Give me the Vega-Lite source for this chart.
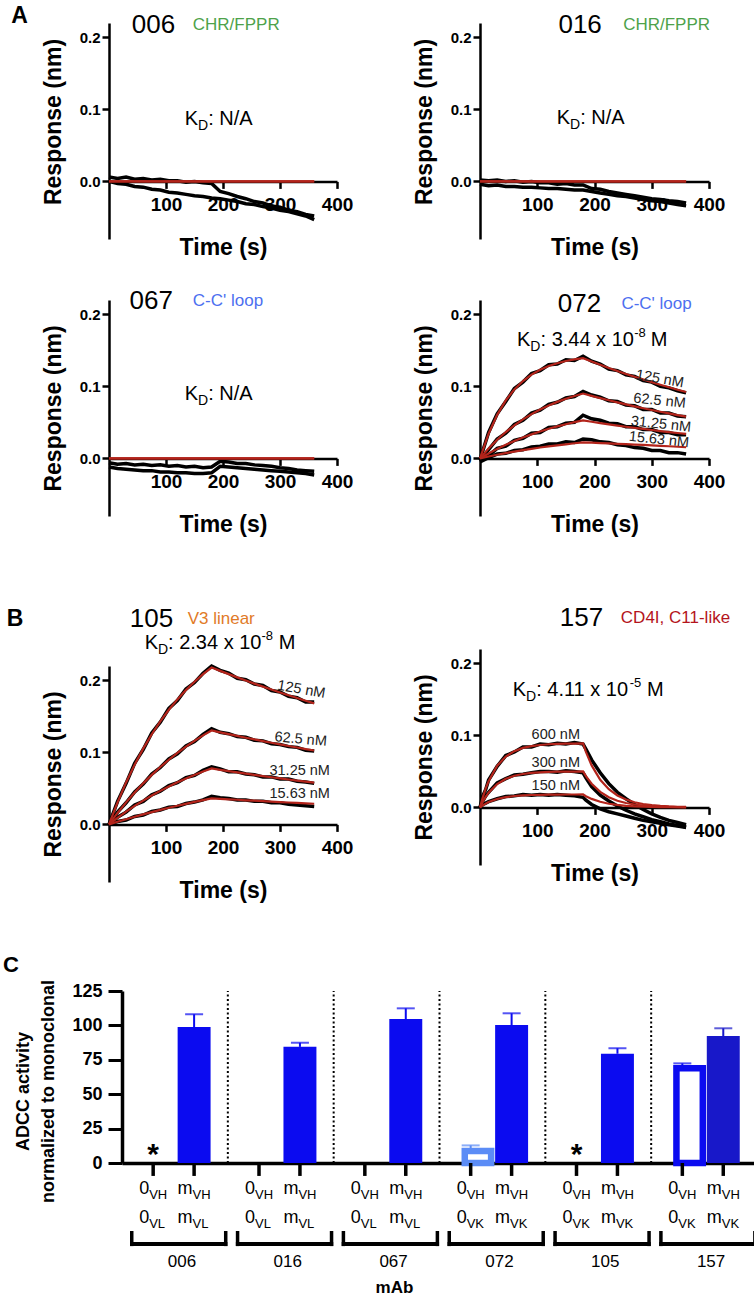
{
"$schema":"https://vega.github.io/schema/vega-lite/v6.json",
"padding":{"left":2,"top":4,"right":0,"bottom":0},
"datasets":{
"k":[
{"p":"006","c":"a","t":0,"b":0.006,"f":0},{"p":"006","c":"a","t":15,"b":0.004,"f":0},{"p":"006","c":"a","t":30,"b":0.006,"f":0},{"p":"006","c":"a","t":45,"b":0.003,"f":0},{"p":"006","c":"a","t":60,"b":0.004,"f":0},{"p":"006","c":"a","t":75,"b":0.002,"f":0},{"p":"006","c":"a","t":90,"b":0.003,"f":0},{"p":"006","c":"a","t":105,"b":0.001,"f":0},{"p":"006","c":"a","t":120,"b":0.001,"f":0},{"p":"006","c":"a","t":135,"b":-0.001,"f":0},{"p":"006","c":"a","t":150,"b":0,"f":0},{"p":"006","c":"a","t":165,"b":-0.002,"f":0},{"p":"006","c":"a","t":180,"b":-0.003,"f":0},{"p":"006","c":"a","t":195,"b":-0.014,"f":0},{"p":"006","c":"a","t":210,"b":-0.017,"f":0},{"p":"006","c":"a","t":225,"b":-0.021,"f":0},{"p":"006","c":"a","t":240,"b":-0.024,"f":0},{"p":"006","c":"a","t":255,"b":-0.028,"f":0},{"p":"006","c":"a","t":270,"b":-0.03,"f":0},{"p":"006","c":"a","t":285,"b":-0.034,"f":0},{"p":"006","c":"a","t":300,"b":-0.036,"f":0},{"p":"006","c":"a","t":315,"b":-0.04,"f":0},{"p":"006","c":"a","t":330,"b":-0.042,"f":0},{"p":"006","c":"a","t":345,"b":-0.046,"f":0},{"p":"006","c":"a","t":360,"b":-0.048,"f":0},
{"p":"006","c":"b","t":0,"b":0,"f":0},{"p":"006","c":"b","t":15,"b":-0.003,"f":0},{"p":"006","c":"b","t":30,"b":-0.004,"f":0},{"p":"006","c":"b","t":45,"b":-0.007,"f":0},{"p":"006","c":"b","t":60,"b":-0.008,"f":0},{"p":"006","c":"b","t":75,"b":-0.011,"f":0},{"p":"006","c":"b","t":90,"b":-0.012,"f":0},{"p":"006","c":"b","t":105,"b":-0.015,"f":0},{"p":"006","c":"b","t":120,"b":-0.016,"f":0},{"p":"006","c":"b","t":135,"b":-0.018,"f":0},{"p":"006","c":"b","t":150,"b":-0.02,"f":0},{"p":"006","c":"b","t":165,"b":-0.021,"f":0},{"p":"006","c":"b","t":180,"b":-0.023,"f":0},{"p":"006","c":"b","t":195,"b":-0.024,"f":0},{"p":"006","c":"b","t":210,"b":-0.026,"f":0},{"p":"006","c":"b","t":225,"b":-0.028,"f":0},{"p":"006","c":"b","t":240,"b":-0.031,"f":0},{"p":"006","c":"b","t":255,"b":-0.032,"f":0},{"p":"006","c":"b","t":270,"b":-0.035,"f":0},{"p":"006","c":"b","t":285,"b":-0.037,"f":0},{"p":"006","c":"b","t":300,"b":-0.04,"f":0},{"p":"006","c":"b","t":315,"b":-0.042,"f":0},{"p":"006","c":"b","t":330,"b":-0.045,"f":0},{"p":"006","c":"b","t":345,"b":-0.048,"f":0},{"p":"006","c":"b","t":360,"b":-0.053,"f":0},
{"p":"016","c":"a","t":0,"b":0.002,"f":0},{"p":"016","c":"a","t":15,"b":0.001,"f":0},{"p":"016","c":"a","t":30,"b":0.002,"f":0},{"p":"016","c":"a","t":45,"b":0,"f":0},{"p":"016","c":"a","t":60,"b":0.001,"f":0},{"p":"016","c":"a","t":75,"b":-0.001,"f":0},{"p":"016","c":"a","t":90,"b":0,"f":0},{"p":"016","c":"a","t":105,"b":-0.002,"f":0},{"p":"016","c":"a","t":120,"b":-0.002,"f":0},{"p":"016","c":"a","t":135,"b":-0.004,"f":0},{"p":"016","c":"a","t":150,"b":-0.003,"f":0},{"p":"016","c":"a","t":165,"b":-0.005,"f":0},{"p":"016","c":"a","t":180,"b":-0.005,"f":0},{"p":"016","c":"a","t":195,"b":-0.01,"f":0},{"p":"016","c":"a","t":210,"b":-0.011,"f":0},{"p":"016","c":"a","t":225,"b":-0.014,"f":0},{"p":"016","c":"a","t":240,"b":-0.016,"f":0},{"p":"016","c":"a","t":255,"b":-0.018,"f":0},{"p":"016","c":"a","t":270,"b":-0.02,"f":0},{"p":"016","c":"a","t":285,"b":-0.022,"f":0},{"p":"016","c":"a","t":300,"b":-0.024,"f":0},{"p":"016","c":"a","t":315,"b":-0.025,"f":0},{"p":"016","c":"a","t":330,"b":-0.027,"f":0},{"p":"016","c":"a","t":345,"b":-0.028,"f":0},{"p":"016","c":"a","t":360,"b":-0.03,"f":0},
{"p":"016","c":"b","t":0,"b":-0.004,"f":0},{"p":"016","c":"b","t":15,"b":-0.006,"f":0},{"p":"016","c":"b","t":30,"b":-0.005,"f":0},{"p":"016","c":"b","t":45,"b":-0.007,"f":0},{"p":"016","c":"b","t":60,"b":-0.007,"f":0},{"p":"016","c":"b","t":75,"b":-0.008,"f":0},{"p":"016","c":"b","t":90,"b":-0.008,"f":0},{"p":"016","c":"b","t":105,"b":-0.009,"f":0},{"p":"016","c":"b","t":120,"b":-0.01,"f":0},{"p":"016","c":"b","t":135,"b":-0.01,"f":0},{"p":"016","c":"b","t":150,"b":-0.011,"f":0},{"p":"016","c":"b","t":165,"b":-0.012,"f":0},{"p":"016","c":"b","t":180,"b":-0.012,"f":0},{"p":"016","c":"b","t":195,"b":-0.014,"f":0},{"p":"016","c":"b","t":210,"b":-0.016,"f":0},{"p":"016","c":"b","t":225,"b":-0.018,"f":0},{"p":"016","c":"b","t":240,"b":-0.02,"f":0},{"p":"016","c":"b","t":255,"b":-0.021,"f":0},{"p":"016","c":"b","t":270,"b":-0.023,"f":0},{"p":"016","c":"b","t":285,"b":-0.025,"f":0},{"p":"016","c":"b","t":300,"b":-0.027,"f":0},{"p":"016","c":"b","t":315,"b":-0.028,"f":0},{"p":"016","c":"b","t":330,"b":-0.03,"f":0},{"p":"016","c":"b","t":345,"b":-0.032,"f":0},{"p":"016","c":"b","t":360,"b":-0.034,"f":0},
{"p":"067","c":"a","t":0,"b":-0.006,"f":0},{"p":"067","c":"a","t":15,"b":-0.008,"f":0},{"p":"067","c":"a","t":30,"b":-0.007,"f":0},{"p":"067","c":"a","t":45,"b":-0.009,"f":0},{"p":"067","c":"a","t":60,"b":-0.008,"f":0},{"p":"067","c":"a","t":75,"b":-0.01,"f":0},{"p":"067","c":"a","t":90,"b":-0.009,"f":0},{"p":"067","c":"a","t":105,"b":-0.011,"f":0},{"p":"067","c":"a","t":120,"b":-0.01,"f":0},{"p":"067","c":"a","t":135,"b":-0.012,"f":0},{"p":"067","c":"a","t":150,"b":-0.011,"f":0},{"p":"067","c":"a","t":165,"b":-0.013,"f":0},{"p":"067","c":"a","t":180,"b":-0.012,"f":0},{"p":"067","c":"a","t":195,"b":-0.004,"f":0},{"p":"067","c":"a","t":210,"b":-0.005,"f":0},{"p":"067","c":"a","t":225,"b":-0.007,"f":0},{"p":"067","c":"a","t":240,"b":-0.007,"f":0},{"p":"067","c":"a","t":255,"b":-0.009,"f":0},{"p":"067","c":"a","t":270,"b":-0.01,"f":0},{"p":"067","c":"a","t":285,"b":-0.011,"f":0},{"p":"067","c":"a","t":300,"b":-0.013,"f":0},{"p":"067","c":"a","t":315,"b":-0.014,"f":0},{"p":"067","c":"a","t":330,"b":-0.016,"f":0},{"p":"067","c":"a","t":345,"b":-0.017,"f":0},{"p":"067","c":"a","t":360,"b":-0.018,"f":0},
{"p":"067","c":"b","t":0,"b":-0.012,"f":0},{"p":"067","c":"b","t":15,"b":-0.014,"f":0},{"p":"067","c":"b","t":30,"b":-0.015,"f":0},{"p":"067","c":"b","t":45,"b":-0.016,"f":0},{"p":"067","c":"b","t":60,"b":-0.017,"f":0},{"p":"067","c":"b","t":75,"b":-0.017,"f":0},{"p":"067","c":"b","t":90,"b":-0.019,"f":0},{"p":"067","c":"b","t":105,"b":-0.019,"f":0},{"p":"067","c":"b","t":120,"b":-0.02,"f":0},{"p":"067","c":"b","t":135,"b":-0.02,"f":0},{"p":"067","c":"b","t":150,"b":-0.021,"f":0},{"p":"067","c":"b","t":165,"b":-0.021,"f":0},{"p":"067","c":"b","t":180,"b":-0.02,"f":0},{"p":"067","c":"b","t":195,"b":-0.011,"f":0},{"p":"067","c":"b","t":210,"b":-0.012,"f":0},{"p":"067","c":"b","t":225,"b":-0.013,"f":0},{"p":"067","c":"b","t":240,"b":-0.014,"f":0},{"p":"067","c":"b","t":255,"b":-0.015,"f":0},{"p":"067","c":"b","t":270,"b":-0.016,"f":0},{"p":"067","c":"b","t":285,"b":-0.017,"f":0},{"p":"067","c":"b","t":300,"b":-0.018,"f":0},{"p":"067","c":"b","t":315,"b":-0.019,"f":0},{"p":"067","c":"b","t":330,"b":-0.02,"f":0},{"p":"067","c":"b","t":345,"b":-0.021,"f":0},{"p":"067","c":"b","t":360,"b":-0.023,"f":0},
{"p":"072","c":"125","t":0,"b":-0.002,"f":0},{"p":"072","c":"125","t":15,"b":0.036,"f":0.0343},{"p":"072","c":"125","t":30,"b":0.062,"f":0.0605},{"p":"072","c":"125","t":45,"b":0.079,"f":0.0805},{"p":"072","c":"125","t":60,"b":0.097,"f":0.0958},{"p":"072","c":"125","t":75,"b":0.106,"f":0.1074},{"p":"072","c":"125","t":90,"b":0.118,"f":0.1163},{"p":"072","c":"125","t":105,"b":0.122,"f":0.1231},{"p":"072","c":"125","t":120,"b":0.13,"f":0.1283},{"p":"072","c":"125","t":135,"b":0.131,"f":0.1322},{"p":"072","c":"125","t":150,"b":0.137,"f":0.1353},{"p":"072","c":"125","t":165,"b":0.136,"f":0.1376},{"p":"072","c":"125","t":180,"b":0.142,"f":0.1393},{"p":"072","c":"125","t":195,"b":0.135,"f":0.1346},{"p":"072","c":"125","t":210,"b":0.131,"f":0.13},{"p":"072","c":"125","t":225,"b":0.124,"f":0.1256},{"p":"072","c":"125","t":240,"b":0.122,"f":0.1214},{"p":"072","c":"125","t":255,"b":0.116,"f":0.1173},{"p":"072","c":"125","t":270,"b":0.114,"f":0.1133},{"p":"072","c":"125","t":285,"b":0.108,"f":0.1095},{"p":"072","c":"125","t":300,"b":0.106,"f":0.1058},{"p":"072","c":"125","t":315,"b":0.1,"f":0.1022},{"p":"072","c":"125","t":330,"b":0.098,"f":0.0988},{"p":"072","c":"125","t":345,"b":0.094,"f":0.0954},{"p":"072","c":"125","t":360,"b":0.091,"f":0.0922},
{"p":"072","c":"62.5","t":0,"b":-0.003,"f":0},{"p":"072","c":"62.5","t":15,"b":0.012,"f":0.0138},{"p":"072","c":"62.5","t":30,"b":0.027,"f":0.0259},{"p":"072","c":"62.5","t":45,"b":0.035,"f":0.0366},{"p":"072","c":"62.5","t":60,"b":0.047,"f":0.0459},{"p":"072","c":"62.5","t":75,"b":0.053,"f":0.0542},{"p":"072","c":"62.5","t":90,"b":0.063,"f":0.0615},{"p":"072","c":"62.5","t":105,"b":0.067,"f":0.0679},{"p":"072","c":"62.5","t":120,"b":0.075,"f":0.0735},{"p":"072","c":"62.5","t":135,"b":0.078,"f":0.0785},{"p":"072","c":"62.5","t":150,"b":0.084,"f":0.0829},{"p":"072","c":"62.5","t":165,"b":0.086,"f":0.0867},{"p":"072","c":"62.5","t":180,"b":0.093,"f":0.0901},{"p":"072","c":"62.5","t":195,"b":0.088,"f":0.0869},{"p":"072","c":"62.5","t":210,"b":0.085,"f":0.0837},{"p":"072","c":"62.5","t":225,"b":0.08,"f":0.0807},{"p":"072","c":"62.5","t":240,"b":0.079,"f":0.0778},{"p":"072","c":"62.5","t":255,"b":0.074,"f":0.075},{"p":"072","c":"62.5","t":270,"b":0.073,"f":0.0723},{"p":"072","c":"62.5","t":285,"b":0.068,"f":0.0697},{"p":"072","c":"62.5","t":300,"b":0.068,"f":0.0672},{"p":"072","c":"62.5","t":315,"b":0.063,"f":0.0648},{"p":"072","c":"62.5","t":330,"b":0.063,"f":0.0625},{"p":"072","c":"62.5","t":345,"b":0.059,"f":0.0602},{"p":"072","c":"62.5","t":360,"b":0.058,"f":0.0581},
{"p":"072","c":"31.25","t":0,"b":-0.004,"f":0},{"p":"072","c":"31.25","t":15,"b":0.004,"f":0.0069},{"p":"072","c":"31.25","t":30,"b":0.014,"f":0.0132},{"p":"072","c":"31.25","t":45,"b":0.017,"f":0.0189},{"p":"072","c":"31.25","t":60,"b":0.025,"f":0.0242},{"p":"072","c":"31.25","t":75,"b":0.028,"f":0.029},{"p":"072","c":"31.25","t":90,"b":0.035,"f":0.0334},{"p":"072","c":"31.25","t":105,"b":0.036,"f":0.0374},{"p":"072","c":"31.25","t":120,"b":0.043,"f":0.0411},{"p":"072","c":"31.25","t":135,"b":0.044,"f":0.0444},{"p":"072","c":"31.25","t":150,"b":0.049,"f":0.0475},{"p":"072","c":"31.25","t":165,"b":0.05,"f":0.0503},{"p":"072","c":"31.25","t":180,"b":0.06,"f":0.0528},{"p":"072","c":"31.25","t":195,"b":0.055,"f":0.0509},{"p":"072","c":"31.25","t":210,"b":0.053,"f":0.0491},{"p":"072","c":"31.25","t":225,"b":0.049,"f":0.0473},{"p":"072","c":"31.25","t":240,"b":0.048,"f":0.0456},{"p":"072","c":"31.25","t":255,"b":0.044,"f":0.044},{"p":"072","c":"31.25","t":270,"b":0.044,"f":0.0424},{"p":"072","c":"31.25","t":285,"b":0.04,"f":0.0409},{"p":"072","c":"31.25","t":300,"b":0.04,"f":0.0394},{"p":"072","c":"31.25","t":315,"b":0.036,"f":0.038},{"p":"072","c":"31.25","t":330,"b":0.036,"f":0.0366},{"p":"072","c":"31.25","t":345,"b":0.033,"f":0.0353},{"p":"072","c":"31.25","t":360,"b":0.033,"f":0.034},
{"p":"072","c":"15.63","t":0,"b":-0.005,"f":0},{"p":"072","c":"15.63","t":15,"b":0.001,"f":0.0026},{"p":"072","c":"15.63","t":30,"b":0.006,"f":0.0051},{"p":"072","c":"15.63","t":45,"b":0.007,"f":0.0073},{"p":"072","c":"15.63","t":60,"b":0.011,"f":0.0095},{"p":"072","c":"15.63","t":75,"b":0.012,"f":0.0115},{"p":"072","c":"15.63","t":90,"b":0.016,"f":0.0133},{"p":"072","c":"15.63","t":105,"b":0.017,"f":0.0151},{"p":"072","c":"15.63","t":120,"b":0.02,"f":0.0167},{"p":"072","c":"15.63","t":135,"b":0.02,"f":0.0182},{"p":"072","c":"15.63","t":150,"b":0.023,"f":0.0196},{"p":"072","c":"15.63","t":165,"b":0.022,"f":0.021},{"p":"072","c":"15.63","t":180,"b":0.027,"f":0.0222},{"p":"072","c":"15.63","t":195,"b":0.026,"f":0.0218},{"p":"072","c":"15.63","t":210,"b":0.023,"f":0.0213},{"p":"072","c":"15.63","t":225,"b":0.022,"f":0.0208},{"p":"072","c":"15.63","t":240,"b":0.019,"f":0.0203},{"p":"072","c":"15.63","t":255,"b":0.018,"f":0.0198},{"p":"072","c":"15.63","t":270,"b":0.015,"f":0.0192},{"p":"072","c":"15.63","t":285,"b":0.014,"f":0.0187},{"p":"072","c":"15.63","t":300,"b":0.011,"f":0.0181},{"p":"072","c":"15.63","t":315,"b":0.011,"f":0.0175},{"p":"072","c":"15.63","t":330,"b":0.008,"f":0.0169},{"p":"072","c":"15.63","t":345,"b":0.008,"f":0.0162},{"p":"072","c":"15.63","t":360,"b":0.006,"f":0.0155},
{"p":"105","c":"125","t":0,"b":0,"f":0},{"p":"105","c":"125","t":15,"b":0.032,"f":0.0307},{"p":"105","c":"125","t":30,"b":0.057,"f":0.0583},{"p":"105","c":"125","t":45,"b":0.085,"f":0.083},{"p":"105","c":"125","t":60,"b":0.104,"f":0.1052},{"p":"105","c":"125","t":75,"b":0.127,"f":0.1252},{"p":"105","c":"125","t":90,"b":0.142,"f":0.1431},{"p":"105","c":"125","t":105,"b":0.161,"f":0.1592},{"p":"105","c":"125","t":120,"b":0.172,"f":0.1736},{"p":"105","c":"125","t":135,"b":0.188,"f":0.1865},{"p":"105","c":"125","t":150,"b":0.197,"f":0.1981},{"p":"105","c":"125","t":165,"b":0.21,"f":0.2086},{"p":"105","c":"125","t":180,"b":0.22,"f":0.2179},{"p":"105","c":"125","t":195,"b":0.214,"f":0.2132},{"p":"105","c":"125","t":210,"b":0.21,"f":0.2087},{"p":"105","c":"125","t":225,"b":0.203,"f":0.2042},{"p":"105","c":"125","t":240,"b":0.201,"f":0.1998},{"p":"105","c":"125","t":255,"b":0.195,"f":0.1955},{"p":"105","c":"125","t":270,"b":0.193,"f":0.1914},{"p":"105","c":"125","t":285,"b":0.186,"f":0.1873},{"p":"105","c":"125","t":300,"b":0.184,"f":0.1833},{"p":"105","c":"125","t":315,"b":0.178,"f":0.1793},{"p":"105","c":"125","t":330,"b":0.176,"f":0.1755},{"p":"105","c":"125","t":345,"b":0.17,"f":0.1717},{"p":"105","c":"125","t":360,"b":0.17,"f":0.1681},
{"p":"105","c":"62.5","t":0,"b":0,"f":0},{"p":"105","c":"62.5","t":15,"b":0.017,"f":0.0159},{"p":"105","c":"62.5","t":30,"b":0.03,"f":0.0306},{"p":"105","c":"62.5","t":45,"b":0.045,"f":0.0443},{"p":"105","c":"62.5","t":60,"b":0.056,"f":0.057},{"p":"105","c":"62.5","t":75,"b":0.07,"f":0.0688},{"p":"105","c":"62.5","t":90,"b":0.079,"f":0.0797},{"p":"105","c":"62.5","t":105,"b":0.091,"f":0.0898},{"p":"105","c":"62.5","t":120,"b":0.098,"f":0.0993},{"p":"105","c":"62.5","t":135,"b":0.109,"f":0.108},{"p":"105","c":"62.5","t":150,"b":0.115,"f":0.1161},{"p":"105","c":"62.5","t":165,"b":0.125,"f":0.1236},{"p":"105","c":"62.5","t":180,"b":0.133,"f":0.1305},{"p":"105","c":"62.5","t":195,"b":0.128,"f":0.1279},{"p":"105","c":"62.5","t":210,"b":0.126,"f":0.1254},{"p":"105","c":"62.5","t":225,"b":0.122,"f":0.1229},{"p":"105","c":"62.5","t":240,"b":0.121,"f":0.1204},{"p":"105","c":"62.5","t":255,"b":0.117,"f":0.118},{"p":"105","c":"62.5","t":270,"b":0.116,"f":0.1157},{"p":"105","c":"62.5","t":285,"b":0.112,"f":0.1134},{"p":"105","c":"62.5","t":300,"b":0.111,"f":0.1111},{"p":"105","c":"62.5","t":315,"b":0.108,"f":0.1089},{"p":"105","c":"62.5","t":330,"b":0.107,"f":0.1068},{"p":"105","c":"62.5","t":345,"b":0.103,"f":0.1046},{"p":"105","c":"62.5","t":360,"b":0.102,"f":0.1026},
{"p":"105","c":"31.25","t":0,"b":0,"f":0},{"p":"105","c":"31.25","t":15,"b":0.01,"f":0.0091},{"p":"105","c":"31.25","t":30,"b":0.017,"f":0.0177},{"p":"105","c":"31.25","t":45,"b":0.027,"f":0.0257},{"p":"105","c":"31.25","t":60,"b":0.032,"f":0.0331},{"p":"105","c":"31.25","t":75,"b":0.041,"f":0.0401},{"p":"105","c":"31.25","t":90,"b":0.046,"f":0.0466},{"p":"105","c":"31.25","t":105,"b":0.054,"f":0.0527},{"p":"105","c":"31.25","t":120,"b":0.058,"f":0.0584},{"p":"105","c":"31.25","t":135,"b":0.065,"f":0.0637},{"p":"105","c":"31.25","t":150,"b":0.068,"f":0.0687},{"p":"105","c":"31.25","t":165,"b":0.075,"f":0.0734},{"p":"105","c":"31.25","t":180,"b":0.08,"f":0.0777},{"p":"105","c":"31.25","t":195,"b":0.077,"f":0.0758},{"p":"105","c":"31.25","t":210,"b":0.073,"f":0.074},{"p":"105","c":"31.25","t":225,"b":0.073,"f":0.0722},{"p":"105","c":"31.25","t":240,"b":0.07,"f":0.0705},{"p":"105","c":"31.25","t":255,"b":0.069,"f":0.0688},{"p":"105","c":"31.25","t":270,"b":0.066,"f":0.0671},{"p":"105","c":"31.25","t":285,"b":0.066,"f":0.0655},{"p":"105","c":"31.25","t":300,"b":0.063,"f":0.0639},{"p":"105","c":"31.25","t":315,"b":0.063,"f":0.0624},{"p":"105","c":"31.25","t":330,"b":0.06,"f":0.0609},{"p":"105","c":"31.25","t":345,"b":0.059,"f":0.0594},{"p":"105","c":"31.25","t":360,"b":0.057,"f":0.058},
{"p":"105","c":"15.63","t":0,"b":0,"f":0},{"p":"105","c":"15.63","t":15,"b":0.004,"f":0.0037},{"p":"105","c":"15.63","t":30,"b":0.006,"f":0.0072},{"p":"105","c":"15.63","t":45,"b":0.011,"f":0.0106},{"p":"105","c":"15.63","t":60,"b":0.013,"f":0.0139},{"p":"105","c":"15.63","t":75,"b":0.018,"f":0.0171},{"p":"105","c":"15.63","t":90,"b":0.02,"f":0.0202},{"p":"105","c":"15.63","t":105,"b":0.024,"f":0.0231},{"p":"105","c":"15.63","t":120,"b":0.025,"f":0.0259},{"p":"105","c":"15.63","t":135,"b":0.029,"f":0.0286},{"p":"105","c":"15.63","t":150,"b":0.031,"f":0.0313},{"p":"105","c":"15.63","t":165,"b":0.034,"f":0.0338},{"p":"105","c":"15.63","t":180,"b":0.039,"f":0.0362},{"p":"105","c":"15.63","t":195,"b":0.037,"f":0.0355},{"p":"105","c":"15.63","t":210,"b":0.036,"f":0.0348},{"p":"105","c":"15.63","t":225,"b":0.034,"f":0.0342},{"p":"105","c":"15.63","t":240,"b":0.034,"f":0.0335},{"p":"105","c":"15.63","t":255,"b":0.032,"f":0.0329},{"p":"105","c":"15.63","t":270,"b":0.032,"f":0.0323},{"p":"105","c":"15.63","t":285,"b":0.03,"f":0.0316},{"p":"105","c":"15.63","t":300,"b":0.03,"f":0.031},{"p":"105","c":"15.63","t":315,"b":0.028,"f":0.0304},{"p":"105","c":"15.63","t":330,"b":0.027,"f":0.0299},{"p":"105","c":"15.63","t":345,"b":0.026,"f":0.0293},{"p":"105","c":"15.63","t":360,"b":0.025,"f":0.0287},
{"p":"157","c":"600","t":0,"b":0,"f":0},{"p":"157","c":"600","t":5,"b":0.016,"f":0.0143},{"p":"157","c":"600","t":10,"b":0.025,"f":0.0263},{"p":"157","c":"600","t":15,"b":0.038,"f":0.0363},{"p":"157","c":"600","t":30,"b":0.057,"f":0.0579},{"p":"157","c":"600","t":45,"b":0.072,"f":0.0706},{"p":"157","c":"600","t":60,"b":0.077,"f":0.0781},{"p":"157","c":"600","t":75,"b":0.084,"f":0.0826},{"p":"157","c":"600","t":90,"b":0.084,"f":0.0852},{"p":"157","c":"600","t":105,"b":0.088,"f":0.0867},{"p":"157","c":"600","t":120,"b":0.087,"f":0.0877},{"p":"157","c":"600","t":135,"b":0.089,"f":0.0882},{"p":"157","c":"600","t":150,"b":0.088,"f":0.0885},{"p":"157","c":"600","t":165,"b":0.09,"f":0.0887},{"p":"157","c":"600","t":180,"b":0.088,"f":0.0888},{"p":"157","c":"600","t":185,"b":0.081,"f":0.0772},{"p":"157","c":"600","t":195,"b":0.066,"f":0.0583},{"p":"157","c":"600","t":210,"b":0.048,"f":0.0383},{"p":"157","c":"600","t":225,"b":0.033,"f":0.0252},{"p":"157","c":"600","t":240,"b":0.021,"f":0.0166},{"p":"157","c":"600","t":255,"b":0.012,"f":0.0109},{"p":"157","c":"600","t":270,"b":0.004,"f":0.0071},{"p":"157","c":"600","t":285,"b":-0.003,"f":0.0047},{"p":"157","c":"600","t":300,"b":-0.009,"f":0.0031},{"p":"157","c":"600","t":315,"b":-0.014,"f":0.002},{"p":"157","c":"600","t":330,"b":-0.018,"f":0.0013},{"p":"157","c":"600","t":345,"b":-0.021,"f":0.0009},{"p":"157","c":"600","t":360,"b":-0.024,"f":0.0006},
{"p":"157","c":"300","t":0,"b":0,"f":0},{"p":"157","c":"300","t":5,"b":0.009,"f":0.008},{"p":"157","c":"300","t":10,"b":0.016,"f":0.0148},{"p":"157","c":"300","t":15,"b":0.021,"f":0.0204},{"p":"157","c":"300","t":30,"b":0.034,"f":0.0325},{"p":"157","c":"300","t":45,"b":0.04,"f":0.0397},{"p":"157","c":"300","t":60,"b":0.045,"f":0.0439},{"p":"157","c":"300","t":75,"b":0.046,"f":0.0464},{"p":"157","c":"300","t":90,"b":0.048,"f":0.0479},{"p":"157","c":"300","t":105,"b":0.05,"f":0.0487},{"p":"157","c":"300","t":120,"b":0.05,"f":0.0493},{"p":"157","c":"300","t":135,"b":0.049,"f":0.0496},{"p":"157","c":"300","t":150,"b":0.051,"f":0.0497},{"p":"157","c":"300","t":165,"b":0.05,"f":0.0498},{"p":"157","c":"300","t":180,"b":0.048,"f":0.0499},{"p":"157","c":"300","t":185,"b":0.041,"f":0.0434},{"p":"157","c":"300","t":195,"b":0.029,"f":0.0328},{"p":"157","c":"300","t":210,"b":0.017,"f":0.0215},{"p":"157","c":"300","t":225,"b":0.009,"f":0.0142},{"p":"157","c":"300","t":240,"b":0.002,"f":0.0093},{"p":"157","c":"300","t":255,"b":-0.004,"f":0.0061},{"p":"157","c":"300","t":270,"b":-0.009,"f":0.004},{"p":"157","c":"300","t":285,"b":-0.013,"f":0.0026},{"p":"157","c":"300","t":300,"b":-0.017,"f":0.0017},{"p":"157","c":"300","t":315,"b":-0.02,"f":0.0011},{"p":"157","c":"300","t":330,"b":-0.023,"f":0.0007},{"p":"157","c":"300","t":345,"b":-0.025,"f":0.0005},{"p":"157","c":"300","t":360,"b":-0.027,"f":0.0003},
{"p":"157","c":"150","t":0,"b":0,"f":0},{"p":"157","c":"150","t":5,"b":0.004,"f":0.0029},{"p":"157","c":"150","t":10,"b":0.006,"f":0.0053},{"p":"157","c":"150","t":15,"b":0.008,"f":0.0074},{"p":"157","c":"150","t":30,"b":0.012,"f":0.0117},{"p":"157","c":"150","t":45,"b":0.015,"f":0.0143},{"p":"157","c":"150","t":60,"b":0.016,"f":0.0158},{"p":"157","c":"150","t":75,"b":0.018,"f":0.0167},{"p":"157","c":"150","t":90,"b":0.017,"f":0.0172},{"p":"157","c":"150","t":105,"b":0.018,"f":0.0175},{"p":"157","c":"150","t":120,"b":0.017,"f":0.0177},{"p":"157","c":"150","t":135,"b":0.018,"f":0.0178},{"p":"157","c":"150","t":150,"b":0.017,"f":0.0179},{"p":"157","c":"150","t":165,"b":0.016,"f":0.0179},{"p":"157","c":"150","t":180,"b":0.014,"f":0.018},{"p":"157","c":"150","t":185,"b":0.01,"f":0.0156},{"p":"157","c":"150","t":195,"b":0.004,"f":0.0118},{"p":"157","c":"150","t":210,"b":-0.002,"f":0.0078},{"p":"157","c":"150","t":225,"b":-0.006,"f":0.0051},{"p":"157","c":"150","t":240,"b":-0.009,"f":0.0034},{"p":"157","c":"150","t":255,"b":-0.012,"f":0.0022},{"p":"157","c":"150","t":270,"b":-0.015,"f":0.0014},{"p":"157","c":"150","t":285,"b":-0.018,"f":0.0009},{"p":"157","c":"150","t":300,"b":-0.02,"f":0.0006},{"p":"157","c":"150","t":315,"b":-0.022,"f":0.0004},{"p":"157","c":"150","t":330,"b":-0.024,"f":0.0003},{"p":"157","c":"150","t":345,"b":-0.026,"f":0.0002},{"p":"157","c":"150","t":360,"b":-0.028,"f":0.0001}
],
"a":[
{"p":"006","r":"num","t":40,"b":0.2175,"s":"006"},{"p":"006","r":"epi","t":147,"b":0.2175,"s":"CHR/FPPR"},{"p":"006","r":"kd","t":133,"b":0.087,"s":"K"},{"p":"006","r":"sub","t":156,"b":0.087,"s":"D"},{"p":"006","r":"kd","t":174,"b":0.087,"s":": N/A"},{"p":"006","r":"let","t":-157,"b":0.23,"s":"A"},
{"p":"016","r":"num","t":137,"b":0.2175,"s":"016"},{"p":"016","r":"epi","t":250,"b":0.2175,"s":"CHR/FPPR"},{"p":"016","r":"kd","t":134,"b":0.0886,"s":"K"},{"p":"016","r":"sub","t":157,"b":0.0886,"s":"D"},{"p":"016","r":"kd","t":175,"b":0.0886,"s":": N/A"},
{"p":"067","r":"num","t":36,"b":0.218,"s":"067"},{"p":"067","r":"epi","t":147,"b":0.218,"s":"C-C' loop"},{"p":"067","r":"kd","t":133,"b":0.09,"s":"K"},{"p":"067","r":"sub","t":156,"b":0.09,"s":"D"},{"p":"067","r":"kd","t":174,"b":0.09,"s":": N/A"},
{"p":"072","r":"num","t":136,"b":0.2147,"s":"072"},{"p":"072","r":"epi","t":247,"b":0.2147,"s":"C-C' loop"},{"p":"072","r":"kd","t":64.7,"b":0.164,"s":"K"},{"p":"072","r":"sub","t":87.9,"b":0.164,"s":"D"},{"p":"072","r":"kd","t":105.7,"b":0.164,"s":": 3.44 x 10"},{"p":"072","r":"sup","t":269.4,"b":0.164,"s":"-8"},{"p":"072","r":"kd","t":298.2,"b":0.164,"s":"M"},
{"p":"072","r":"c1","t":314,"b":0.11,"s":"125 nM"},{"p":"072","r":"c2","t":313.6,"b":0.0795,"s":"62.5 nM"},{"p":"072","r":"c2","t":316,"b":0.047,"s":"31.25 nM"},{"p":"072","r":"c2","t":312.6,"b":0.0255,"s":"15.63 nM"},
{"p":"105","r":"num","t":36.5,"b":0.285,"s":"105"},{"p":"105","r":"epi","t":138,"b":0.285,"s":"V3 linear"},{"p":"105","r":"kd","t":62.6,"b":0.2517,"s":"K"},{"p":"105","r":"sub","t":85.9,"b":0.2517,"s":"D"},{"p":"105","r":"kd","t":103.6,"b":0.2517,"s":": 2.34 x 10"},{"p":"105","r":"sup","t":267.5,"b":0.2517,"s":"-8"},{"p":"105","r":"kd","t":297.6,"b":0.2517,"s":"M"},{"p":"105","r":"let","t":-165,"b":0.285,"s":"B"},
{"p":"105","r":"c1","t":337.5,"b":0.187,"s":"125 nM"},{"p":"105","r":"c2","t":336.3,"b":0.1177,"s":"62.5 nM"},{"p":"105","r":"c0","t":334.6,"b":0.0748,"s":"31.25 nM"},{"p":"105","r":"c0","t":334.6,"b":0.0416,"s":"15.63 nM"},
{"p":"157","r":"num","t":139.4,"b":0.2626,"s":"157"},{"p":"157","r":"epi","t":246,"b":0.2626,"s":"CD4I, C11-like"},{"p":"157","r":"kd","t":57.2,"b":0.1636,"s":"K"},{"p":"157","r":"sub","t":80.5,"b":0.1636,"s":"D"},{"p":"157","r":"kd","t":98.1,"b":0.1636,"s":": 4.11 x 10"},{"p":"157","r":"sup","t":261.5,"b":0.1636,"s":"-5"},{"p":"157","r":"kd","t":291.6,"b":0.1636,"s":"M"},
{"p":"157","r":"c0","t":132.4,"b":0.101,"s":"600 nM"},{"p":"157","r":"c0","t":132.4,"b":0.0613,"s":"300 nM"},{"p":"157","r":"c0","t":132.4,"b":0.0301,"s":"150 nM"}
],
"bars":[
{"mab":"006","ab":"m","v":98.8,"hi":108.1,"g":"b"},{"mab":"016","ab":"m","v":84.4,"hi":87.4,"g":"b"},{"mab":"067","ab":"m","v":104.6,"hi":112.4,"g":"b"},{"mab":"072","ab":"0","v":8.7,"hi":12.8,"g":"l"},{"mab":"072","ab":"m","v":100.3,"hi":108.8,"g":"b"},{"mab":"105","ab":"m","v":79.4,"hi":83.4,"g":"b"},{"mab":"157","ab":"0","v":68.8,"hi":72.4,"g":"h"},{"mab":"157","ab":"m","v":92.3,"hi":97.9,"g":"d"}
],
"labs":[
{"mab":"006","ab":"0","s1":"VH","s2":"VL"},{"mab":"006","ab":"m","s1":"VH","s2":"VL"},{"mab":"016","ab":"0","s1":"VH","s2":"VL"},{"mab":"016","ab":"m","s1":"VH","s2":"VL"},{"mab":"067","ab":"0","s1":"VH","s2":"VL"},{"mab":"067","ab":"m","s1":"VH","s2":"VL"},{"mab":"072","ab":"0","s1":"VH","s2":"VK"},{"mab":"072","ab":"m","s1":"VH","s2":"VK"},{"mab":"105","ab":"0","s1":"VH","s2":"VK"},{"mab":"105","ab":"m","s1":"VH","s2":"VK"},{"mab":"157","ab":"0","s1":"VH","s2":"VK"},{"mab":"157","ab":"m","s1":"VH","s2":"VK"}
],
"st":[{"mab":"006","ab":"0"},{"mab":"105","ab":"0"}]
},
"vconcat":[
{"vconcat":[
{"hconcat":[
{"width":215,"height":216,"layer":[
{"data":{"name":"k"},"transform":[{"filter":"datum.p=='006'"}],"mark":{"type":"line","color":"#000","strokeWidth":3.5},"encoding":{"x":{"field":"t","type":"quantitative","title":"Time (s)","scale":{"domain":[0,400],"range":[-13,215],"nice":false,"zero":false},"axis":{"title":"Time (s)","offset":-57.6,"values":[100,200,300,400]}},"y":{"field":"b","type":"quantitative","title":"Response (nm)","scale":{"domain":[-0.08,0.22],"nice":false,"zero":false},"axis":{"title":"Response (nm)","values":[0,0.1,0.2],"format":".1f","offset":13,"titleY":98.5}},"detail":{"field":"c"}}},
{"data":{"name":"k"},"transform":[{"filter":"datum.p=='006'"}],"mark":{"type":"line","color":"#b3241b","strokeWidth":2.2},"encoding":{"x":{"field":"t","type":"quantitative","title":"Time (s)"},"y":{"field":"f","type":"quantitative","title":"Response (nm)"},"detail":{"field":"c"}}},
{"data":{"name":"a"},"transform":[{"filter":"datum.p=='006'&&datum.r=='num'"}],"mark":{"type":"text","fontSize":26,"align":"left","baseline":"middle"},"encoding":{"x":{"field":"t","type":"quantitative","title":"Time (s)"},"y":{"field":"b","type":"quantitative","title":"Response (nm)"},"text":{"field":"s"}}},
{"data":{"name":"a"},"transform":[{"filter":"datum.p=='006'&&datum.r=='epi'"}],"mark":{"type":"text","fontSize":17,"align":"left","baseline":"middle"},"encoding":{"x":{"field":"t","type":"quantitative","title":"Time (s)"},"y":{"field":"b","type":"quantitative","title":"Response (nm)"},"text":{"field":"s"},"color":{"field":"s","type":"nominal","scale":{"domain":["CHR/FPPR","C-C' loop","V3 linear","CD4I, C11-like"],"range":["#4ea24a","#4d6ff0","#e17a27","#b4141c"]},"legend":null}}},
{"data":{"name":"a"},"transform":[{"filter":"datum.p=='006'&&datum.r=='kd'"}],"mark":{"type":"text","fontSize":20,"align":"left","baseline":"middle"},"encoding":{"x":{"field":"t","type":"quantitative","title":"Time (s)"},"y":{"field":"b","type":"quantitative","title":"Response (nm)"},"text":{"field":"s"}}},
{"data":{"name":"a"},"transform":[{"filter":"datum.p=='006'&&datum.r=='sub'"}],"mark":{"type":"text","fontSize":14,"align":"left","baseline":"middle","dy":7},"encoding":{"x":{"field":"t","type":"quantitative","title":"Time (s)"},"y":{"field":"b","type":"quantitative","title":"Response (nm)"},"text":{"field":"s"}}},
{"data":{"name":"a"},"transform":[{"filter":"datum.p=='006'&&datum.r=='let'"}],"mark":{"type":"text","fontSize":23,"fontWeight":"bold","align":"center","baseline":"middle"},"encoding":{"x":{"field":"t","type":"quantitative","title":"Time (s)"},"y":{"field":"b","type":"quantitative","title":"Response (nm)"},"text":{"field":"s"}}}
]},
{"width":229,"height":216,"layer":[
{"data":{"name":"k"},"transform":[{"filter":"datum.p=='016'"}],"mark":{"type":"line","color":"#000","strokeWidth":3.5},"encoding":{"x":{"field":"t","type":"quantitative","title":"Time (s)","scale":{"domain":[0,400],"nice":false,"zero":false},"axis":{"title":"Time (s)","offset":-57.6,"values":[100,200,300,400]}},"y":{"field":"b","type":"quantitative","title":"Response (nm)","scale":{"domain":[-0.08,0.22],"nice":false,"zero":false},"axis":{"title":"Response (nm)","values":[0,0.1,0.2],"format":".1f","titleY":98.5}},"detail":{"field":"c"}}},
{"data":{"name":"k"},"transform":[{"filter":"datum.p=='016'"}],"mark":{"type":"line","color":"#b3241b","strokeWidth":2.2},"encoding":{"x":{"field":"t","type":"quantitative","title":"Time (s)"},"y":{"field":"f","type":"quantitative","title":"Response (nm)"},"detail":{"field":"c"}}},
{"data":{"name":"a"},"transform":[{"filter":"datum.p=='016'&&datum.r=='num'"}],"mark":{"type":"text","fontSize":26,"align":"left","baseline":"middle"},"encoding":{"x":{"field":"t","type":"quantitative","title":"Time (s)"},"y":{"field":"b","type":"quantitative","title":"Response (nm)"},"text":{"field":"s"}}},
{"data":{"name":"a"},"transform":[{"filter":"datum.p=='016'&&datum.r=='epi'"}],"mark":{"type":"text","fontSize":17,"align":"left","baseline":"middle"},"encoding":{"x":{"field":"t","type":"quantitative","title":"Time (s)"},"y":{"field":"b","type":"quantitative","title":"Response (nm)"},"text":{"field":"s"},"color":{"field":"s","type":"nominal","scale":{"domain":["CHR/FPPR","C-C' loop","V3 linear","CD4I, C11-like"],"range":["#4ea24a","#4d6ff0","#e17a27","#b4141c"]},"legend":null}}},
{"data":{"name":"a"},"transform":[{"filter":"datum.p=='016'&&datum.r=='kd'"}],"mark":{"type":"text","fontSize":20,"align":"left","baseline":"middle"},"encoding":{"x":{"field":"t","type":"quantitative","title":"Time (s)"},"y":{"field":"b","type":"quantitative","title":"Response (nm)"},"text":{"field":"s"}}},
{"data":{"name":"a"},"transform":[{"filter":"datum.p=='016'&&datum.r=='sub'"}],"mark":{"type":"text","fontSize":14,"align":"left","baseline":"middle","dy":7},"encoding":{"x":{"field":"t","type":"quantitative","title":"Time (s)"},"y":{"field":"b","type":"quantitative","title":"Response (nm)"},"text":{"field":"s"}}}
]}
],"spacing":60},
{"hconcat":[
{"width":215,"height":216,"layer":[
{"data":{"name":"k"},"transform":[{"filter":"datum.p=='067'"}],"mark":{"type":"line","color":"#000","strokeWidth":3.5},"encoding":{"x":{"field":"t","type":"quantitative","title":"Time (s)","scale":{"domain":[0,400],"range":[-13,215],"nice":false,"zero":false},"axis":{"title":"Time (s)","offset":-57.6,"values":[100,200,300,400]}},"y":{"field":"b","type":"quantitative","title":"Response (nm)","scale":{"domain":[-0.08,0.22],"nice":false,"zero":false},"axis":{"title":"Response (nm)","values":[0,0.1,0.2],"format":".1f","offset":13}},"detail":{"field":"c"}}},
{"data":{"name":"k"},"transform":[{"filter":"datum.p=='067'"}],"mark":{"type":"line","color":"#b3241b","strokeWidth":2.2},"encoding":{"x":{"field":"t","type":"quantitative","title":"Time (s)"},"y":{"field":"f","type":"quantitative","title":"Response (nm)"},"detail":{"field":"c"}}},
{"data":{"name":"a"},"transform":[{"filter":"datum.p=='067'&&datum.r=='num'"}],"mark":{"type":"text","fontSize":26,"align":"left","baseline":"middle"},"encoding":{"x":{"field":"t","type":"quantitative","title":"Time (s)"},"y":{"field":"b","type":"quantitative","title":"Response (nm)"},"text":{"field":"s"}}},
{"data":{"name":"a"},"transform":[{"filter":"datum.p=='067'&&datum.r=='epi'"}],"mark":{"type":"text","fontSize":17,"align":"left","baseline":"middle"},"encoding":{"x":{"field":"t","type":"quantitative","title":"Time (s)"},"y":{"field":"b","type":"quantitative","title":"Response (nm)"},"text":{"field":"s"},"color":{"field":"s","type":"nominal","scale":{"domain":["CHR/FPPR","C-C' loop","V3 linear","CD4I, C11-like"],"range":["#4ea24a","#4d6ff0","#e17a27","#b4141c"]},"legend":null}}},
{"data":{"name":"a"},"transform":[{"filter":"datum.p=='067'&&datum.r=='kd'"}],"mark":{"type":"text","fontSize":20,"align":"left","baseline":"middle"},"encoding":{"x":{"field":"t","type":"quantitative","title":"Time (s)"},"y":{"field":"b","type":"quantitative","title":"Response (nm)"},"text":{"field":"s"}}},
{"data":{"name":"a"},"transform":[{"filter":"datum.p=='067'&&datum.r=='sub'"}],"mark":{"type":"text","fontSize":14,"align":"left","baseline":"middle","dy":7},"encoding":{"x":{"field":"t","type":"quantitative","title":"Time (s)"},"y":{"field":"b","type":"quantitative","title":"Response (nm)"},"text":{"field":"s"}}}
]},
{"width":229,"height":216,"layer":[
{"data":{"name":"k"},"transform":[{"filter":"datum.p=='072'"}],"mark":{"type":"line","color":"#000","strokeWidth":3.5},"encoding":{"x":{"field":"t","type":"quantitative","title":"Time (s)","scale":{"domain":[0,400],"nice":false,"zero":false},"axis":{"title":"Time (s)","offset":-57.6,"values":[100,200,300,400]}},"y":{"field":"b","type":"quantitative","title":"Response (nm)","scale":{"domain":[-0.08,0.22],"nice":false,"zero":false},"axis":{"title":"Response (nm)","values":[0,0.1,0.2],"format":".1f"}},"detail":{"field":"c"}}},
{"data":{"name":"k"},"transform":[{"filter":"datum.p=='072'"}],"mark":{"type":"line","color":"#b3241b","strokeWidth":2.2},"encoding":{"x":{"field":"t","type":"quantitative","title":"Time (s)"},"y":{"field":"f","type":"quantitative","title":"Response (nm)"},"detail":{"field":"c"}}},
{"data":{"name":"a"},"transform":[{"filter":"datum.p=='072'&&datum.r=='num'"}],"mark":{"type":"text","fontSize":26,"align":"left","baseline":"middle"},"encoding":{"x":{"field":"t","type":"quantitative","title":"Time (s)"},"y":{"field":"b","type":"quantitative","title":"Response (nm)"},"text":{"field":"s"}}},
{"data":{"name":"a"},"transform":[{"filter":"datum.p=='072'&&datum.r=='epi'"}],"mark":{"type":"text","fontSize":17,"align":"left","baseline":"middle"},"encoding":{"x":{"field":"t","type":"quantitative","title":"Time (s)"},"y":{"field":"b","type":"quantitative","title":"Response (nm)"},"text":{"field":"s"},"color":{"field":"s","type":"nominal","scale":{"domain":["CHR/FPPR","C-C' loop","V3 linear","CD4I, C11-like"],"range":["#4ea24a","#4d6ff0","#e17a27","#b4141c"]},"legend":null}}},
{"data":{"name":"a"},"transform":[{"filter":"datum.p=='072'&&datum.r=='kd'"}],"mark":{"type":"text","fontSize":20,"align":"left","baseline":"middle"},"encoding":{"x":{"field":"t","type":"quantitative","title":"Time (s)"},"y":{"field":"b","type":"quantitative","title":"Response (nm)"},"text":{"field":"s"}}},
{"data":{"name":"a"},"transform":[{"filter":"datum.p=='072'&&datum.r=='sub'"}],"mark":{"type":"text","fontSize":14,"align":"left","baseline":"middle","dy":7},"encoding":{"x":{"field":"t","type":"quantitative","title":"Time (s)"},"y":{"field":"b","type":"quantitative","title":"Response (nm)"},"text":{"field":"s"}}},
{"data":{"name":"a"},"transform":[{"filter":"datum.p=='072'&&datum.r=='sup'"}],"mark":{"type":"text","fontSize":13,"align":"left","baseline":"middle","dy":-7},"encoding":{"x":{"field":"t","type":"quantitative","title":"Time (s)"},"y":{"field":"b","type":"quantitative","title":"Response (nm)"},"text":{"field":"s"}}},
{"data":{"name":"a"},"transform":[{"filter":"datum.p=='072'&&datum.r=='c1'"}],"mark":{"type":"text","fontSize":14.5,"align":"center","baseline":"middle","angle":10,"color":"#222"},"encoding":{"x":{"field":"t","type":"quantitative","title":"Time (s)"},"y":{"field":"b","type":"quantitative","title":"Response (nm)"},"text":{"field":"s"}}},
{"data":{"name":"a"},"transform":[{"filter":"datum.p=='072'&&datum.r=='c2'"}],"mark":{"type":"text","fontSize":14.5,"align":"center","baseline":"middle","angle":6,"color":"#222"},"encoding":{"x":{"field":"t","type":"quantitative","title":"Time (s)"},"y":{"field":"b","type":"quantitative","title":"Response (nm)"},"text":{"field":"s"}}}
]}
],"spacing":60}
],"spacing":28},
{"vconcat":[
{"hconcat":[
{"width":215,"height":233,"layer":[
{"data":{"name":"k"},"transform":[{"filter":"datum.p=='105'"}],"mark":{"type":"line","color":"#000","strokeWidth":3.5},"encoding":{"x":{"field":"t","type":"quantitative","title":"Time (s)","scale":{"domain":[0,400],"range":[-13,215],"nice":false,"zero":false},"axis":{"title":"Time (s)","offset":-57.6,"values":[100,200,300,400]}},"y":{"field":"b","type":"quantitative","title":"Response (nm)","scale":{"domain":[-0.08,0.22],"range":[233,17],"nice":false,"zero":false},"axis":{"title":"Response (nm)","values":[0,0.1,0.2],"format":".1f","offset":13}},"detail":{"field":"c"}}},
{"data":{"name":"k"},"transform":[{"filter":"datum.p=='105'"}],"mark":{"type":"line","color":"#b3241b","strokeWidth":2.2},"encoding":{"x":{"field":"t","type":"quantitative","title":"Time (s)"},"y":{"field":"f","type":"quantitative","title":"Response (nm)"},"detail":{"field":"c"}}},
{"data":{"name":"a"},"transform":[{"filter":"datum.p=='105'&&datum.r=='num'"}],"mark":{"type":"text","fontSize":26,"align":"left","baseline":"middle"},"encoding":{"x":{"field":"t","type":"quantitative","title":"Time (s)"},"y":{"field":"b","type":"quantitative","title":"Response (nm)"},"text":{"field":"s"}}},
{"data":{"name":"a"},"transform":[{"filter":"datum.p=='105'&&datum.r=='epi'"}],"mark":{"type":"text","fontSize":17,"align":"left","baseline":"middle"},"encoding":{"x":{"field":"t","type":"quantitative","title":"Time (s)"},"y":{"field":"b","type":"quantitative","title":"Response (nm)"},"text":{"field":"s"},"color":{"field":"s","type":"nominal","scale":{"domain":["CHR/FPPR","C-C' loop","V3 linear","CD4I, C11-like"],"range":["#4ea24a","#4d6ff0","#e17a27","#b4141c"]},"legend":null}}},
{"data":{"name":"a"},"transform":[{"filter":"datum.p=='105'&&datum.r=='kd'"}],"mark":{"type":"text","fontSize":20,"align":"left","baseline":"middle"},"encoding":{"x":{"field":"t","type":"quantitative","title":"Time (s)"},"y":{"field":"b","type":"quantitative","title":"Response (nm)"},"text":{"field":"s"}}},
{"data":{"name":"a"},"transform":[{"filter":"datum.p=='105'&&datum.r=='sub'"}],"mark":{"type":"text","fontSize":14,"align":"left","baseline":"middle","dy":7},"encoding":{"x":{"field":"t","type":"quantitative","title":"Time (s)"},"y":{"field":"b","type":"quantitative","title":"Response (nm)"},"text":{"field":"s"}}},
{"data":{"name":"a"},"transform":[{"filter":"datum.p=='105'&&datum.r=='sup'"}],"mark":{"type":"text","fontSize":13,"align":"left","baseline":"middle","dy":-7},"encoding":{"x":{"field":"t","type":"quantitative","title":"Time (s)"},"y":{"field":"b","type":"quantitative","title":"Response (nm)"},"text":{"field":"s"}}},
{"data":{"name":"a"},"transform":[{"filter":"datum.p=='105'&&datum.r=='c0'"}],"mark":{"type":"text","fontSize":14.5,"align":"center","baseline":"middle","color":"#222"},"encoding":{"x":{"field":"t","type":"quantitative","title":"Time (s)"},"y":{"field":"b","type":"quantitative","title":"Response (nm)"},"text":{"field":"s"}}},
{"data":{"name":"a"},"transform":[{"filter":"datum.p=='105'&&datum.r=='c1'"}],"mark":{"type":"text","fontSize":14.5,"align":"center","baseline":"middle","angle":10,"color":"#222"},"encoding":{"x":{"field":"t","type":"quantitative","title":"Time (s)"},"y":{"field":"b","type":"quantitative","title":"Response (nm)"},"text":{"field":"s"}}},
{"data":{"name":"a"},"transform":[{"filter":"datum.p=='105'&&datum.r=='c2'"}],"mark":{"type":"text","fontSize":14.5,"align":"center","baseline":"middle","angle":5,"color":"#222"},"encoding":{"x":{"field":"t","type":"quantitative","title":"Time (s)"},"y":{"field":"b","type":"quantitative","title":"Response (nm)"},"text":{"field":"s"}}},
{"data":{"name":"a"},"transform":[{"filter":"datum.p=='105'&&datum.r=='let'"}],"mark":{"type":"text","fontSize":23,"fontWeight":"bold","align":"center","baseline":"middle"},"encoding":{"x":{"field":"t","type":"quantitative","title":"Time (s)"},"y":{"field":"b","type":"quantitative","title":"Response (nm)"},"text":{"field":"s"}}}
]},
{"width":229,"height":216,"layer":[
{"data":{"name":"k"},"transform":[{"filter":"datum.p=='157'"}],"mark":{"type":"line","color":"#000","strokeWidth":3.5},"encoding":{"x":{"field":"t","type":"quantitative","title":"Time (s)","scale":{"domain":[0,400],"nice":false,"zero":false},"axis":{"title":"Time (s)","offset":-57.6,"values":[100,200,300,400]}},"y":{"field":"b","type":"quantitative","title":"Response (nm)","scale":{"domain":[-0.08,0.22],"nice":false,"zero":false},"axis":{"title":"Response (nm)","values":[0,0.1,0.2],"format":".1f"}},"detail":{"field":"c"}}},
{"data":{"name":"k"},"transform":[{"filter":"datum.p=='157'"}],"mark":{"type":"line","color":"#b3241b","strokeWidth":2.2},"encoding":{"x":{"field":"t","type":"quantitative","title":"Time (s)"},"y":{"field":"f","type":"quantitative","title":"Response (nm)"},"detail":{"field":"c"}}},
{"data":{"name":"a"},"transform":[{"filter":"datum.p=='157'&&datum.r=='num'"}],"mark":{"type":"text","fontSize":26,"align":"left","baseline":"middle"},"encoding":{"x":{"field":"t","type":"quantitative","title":"Time (s)"},"y":{"field":"b","type":"quantitative","title":"Response (nm)"},"text":{"field":"s"}}},
{"data":{"name":"a"},"transform":[{"filter":"datum.p=='157'&&datum.r=='epi'"}],"mark":{"type":"text","fontSize":17,"align":"left","baseline":"middle"},"encoding":{"x":{"field":"t","type":"quantitative","title":"Time (s)"},"y":{"field":"b","type":"quantitative","title":"Response (nm)"},"text":{"field":"s"},"color":{"field":"s","type":"nominal","scale":{"domain":["CHR/FPPR","C-C' loop","V3 linear","CD4I, C11-like"],"range":["#4ea24a","#4d6ff0","#e17a27","#b4141c"]},"legend":null}}},
{"data":{"name":"a"},"transform":[{"filter":"datum.p=='157'&&datum.r=='kd'"}],"mark":{"type":"text","fontSize":20,"align":"left","baseline":"middle"},"encoding":{"x":{"field":"t","type":"quantitative","title":"Time (s)"},"y":{"field":"b","type":"quantitative","title":"Response (nm)"},"text":{"field":"s"}}},
{"data":{"name":"a"},"transform":[{"filter":"datum.p=='157'&&datum.r=='sub'"}],"mark":{"type":"text","fontSize":14,"align":"left","baseline":"middle","dy":7},"encoding":{"x":{"field":"t","type":"quantitative","title":"Time (s)"},"y":{"field":"b","type":"quantitative","title":"Response (nm)"},"text":{"field":"s"}}},
{"data":{"name":"a"},"transform":[{"filter":"datum.p=='157'&&datum.r=='sup'"}],"mark":{"type":"text","fontSize":13,"align":"left","baseline":"middle","dy":-7},"encoding":{"x":{"field":"t","type":"quantitative","title":"Time (s)"},"y":{"field":"b","type":"quantitative","title":"Response (nm)"},"text":{"field":"s"}}},
{"data":{"name":"a"},"transform":[{"filter":"datum.p=='157'&&datum.r=='c0'"}],"mark":{"type":"text","fontSize":14.5,"align":"center","baseline":"middle","color":"#222"},"encoding":{"x":{"field":"t","type":"quantitative","title":"Time (s)"},"y":{"field":"b","type":"quantitative","title":"Response (nm)"},"text":{"field":"s"}}}
]}
],"spacing":60},
{"width":635,"height":172,
"title":{"text":"C","anchor":"start","frame":"bounds","fontSize":22,"fontWeight":"bold","font":"Liberation Sans","offset":2,"dx":-12},
"layer":[
{"data":{"name":"bars"},"transform":[{"filter":"datum.g=='b'||datum.g=='d'"}],"mark":{"type":"bar"},"encoding":{
"x":{"field":"mab","type":"nominal","scale":{"domain":["006","016","067","072","105","157"],"paddingInner":0,"paddingOuter":0},"axis":{"title":"mAb","labelAngle":0,"ticks":false,"tickSize":0,"labelPadding":90,"labelFontSize":17,"labelFontWeight":"normal","labelOffset":7,"domainWidth":3.5,"titleFontSize":17,"titlePadding":10,"titleX":272}},
"xOffset":{"field":"ab","type":"nominal","scale":{"domain":["0","m"],"paddingInner":0.195,"paddingOuter":0.39,"align":0.46}},
"y":{"field":"v","type":"quantitative","scale":{"domain":[0,125],"nice":false,"zero":false},"axis":{"title":["ADCC activity","normalized to monoclonal"],"values":[0,25,50,75,100,125],"tickCount":6,"labelOverlap":false,"labelSeparation":0,"labelFontSize":18,"tickSize":14,"tickWidth":3,"domainWidth":3.5,"labelPadding":6,"titleFontSize":18,"titleLineHeight":25,"titlePadding":14,"titleY":100}},
"fill":{"field":"g","type":"nominal","scale":{"domain":["b","d","l","h"],"range":["#0b0bf0","#1818c9","#5b8cf6","#0b0bf0"]},"legend":null}}},
{"data":{"name":"labs"},"transform":[{"filter":"datum.ab=='0'&&datum.mab!='006'"}],"mark":{"type":"rule","strokeDash":[2,2.5],"strokeWidth":2,"color":"#000"},"encoding":{"x":{"field":"mab","type":"nominal","bandPosition":0},"y":{"datum":0},"y2":{"datum":125}}},
{"data":{"name":"bars"},"transform":[{"filter":"datum.g=='l'||datum.g=='h'"}],"mark":{"type":"bar","fill":"#fff","strokeWidth":6.5,"width":{"band":0.8}},"encoding":{"x":{"field":"mab","type":"nominal"},"xOffset":{"field":"ab","type":"nominal"},"y":{"field":"v","type":"quantitative"},"stroke":{"field":"g","type":"nominal","scale":{"domain":["b","d","l","h"],"range":["#0b0bf0","#1818c9","#5b8cf6","#0b0bf0"]},"legend":null}}},
{"data":{"name":"bars"},"mark":{"type":"rule","strokeWidth":2},"encoding":{"x":{"field":"mab","type":"nominal"},"xOffset":{"field":"ab","type":"nominal"},"y":{"field":"v","type":"quantitative"},"y2":{"field":"hi"},"stroke":{"field":"g","type":"nominal"}}},
{"data":{"name":"bars"},"mark":{"type":"tick","size":18,"thickness":2},"encoding":{"x":{"field":"mab","type":"nominal"},"xOffset":{"field":"ab","type":"nominal"},"y":{"field":"hi","type":"quantitative"},"fill":{"field":"g","type":"nominal"}}},
{"data":{"name":"labs"},"mark":{"type":"rule","strokeWidth":3.5,"color":"#000"},"encoding":{"x":{"field":"mab","type":"nominal"},"xOffset":{"field":"ab","type":"nominal"},"y":{"datum":0},"y2":{"datum":-9.4}}},
{"data":{"name":"labs"},"transform":[{"filter":"datum.ab=='0'"}],"mark":{"type":"text","fontSize":18,"align":"right","baseline":"middle","dx":-4},"encoding":{"x":{"field":"mab","type":"nominal"},"xOffset":{"field":"ab","type":"nominal"},"y":{"datum":-19},"text":{"field":"ab"}}},
{"data":{"name":"labs"},"transform":[{"filter":"datum.ab=='m'"}],"mark":{"type":"text","fontSize":18,"align":"right","baseline":"middle","dx":-1.5},"encoding":{"x":{"field":"mab","type":"nominal"},"xOffset":{"field":"ab","type":"nominal"},"y":{"datum":-19},"text":{"field":"ab"}}},
{"data":{"name":"labs"},"transform":[{"filter":"datum.ab=='0'"}],"mark":{"type":"text","fontSize":13,"align":"left","baseline":"middle","dx":-4,"dy":6},"encoding":{"x":{"field":"mab","type":"nominal"},"xOffset":{"field":"ab","type":"nominal"},"y":{"datum":-19},"text":{"field":"s1"}}},
{"data":{"name":"labs"},"transform":[{"filter":"datum.ab=='m'"}],"mark":{"type":"text","fontSize":13,"align":"left","baseline":"middle","dx":-1.5,"dy":6},"encoding":{"x":{"field":"mab","type":"nominal"},"xOffset":{"field":"ab","type":"nominal"},"y":{"datum":-19},"text":{"field":"s1"}}},
{"data":{"name":"labs"},"transform":[{"filter":"datum.ab=='0'"}],"mark":{"type":"text","fontSize":18,"align":"right","baseline":"middle","dx":-4},"encoding":{"x":{"field":"mab","type":"nominal"},"xOffset":{"field":"ab","type":"nominal"},"y":{"datum":-40},"text":{"field":"ab"}}},
{"data":{"name":"labs"},"transform":[{"filter":"datum.ab=='m'"}],"mark":{"type":"text","fontSize":18,"align":"right","baseline":"middle","dx":-1.5},"encoding":{"x":{"field":"mab","type":"nominal"},"xOffset":{"field":"ab","type":"nominal"},"y":{"datum":-40},"text":{"field":"ab"}}},
{"data":{"name":"labs"},"transform":[{"filter":"datum.ab=='0'"}],"mark":{"type":"text","fontSize":13,"align":"left","baseline":"middle","dx":-4,"dy":6},"encoding":{"x":{"field":"mab","type":"nominal"},"xOffset":{"field":"ab","type":"nominal"},"y":{"datum":-40},"text":{"field":"s2"}}},
{"data":{"name":"labs"},"transform":[{"filter":"datum.ab=='m'"}],"mark":{"type":"text","fontSize":13,"align":"left","baseline":"middle","dx":-1.5,"dy":6},"encoding":{"x":{"field":"mab","type":"nominal"},"xOffset":{"field":"ab","type":"nominal"},"y":{"datum":-40},"text":{"field":"s2"}}},
{"data":{"name":"labs"},"transform":[{"filter":"datum.ab=='0'"}],"mark":{"type":"bar","color":"#000","width":{"band":0.92},"xOffset":3.8},"encoding":{"x":{"field":"mab","type":"nominal"},"y":{"datum":-57.5},"y2":{"datum":-60.4}}},
{"data":{"name":"labs"},"transform":[{"filter":"datum.ab=='0'"}],"mark":{"type":"rule","strokeWidth":3.5,"color":"#000"},"encoding":{"x":{"field":"mab","type":"nominal","bandPosition":0.092},"y":{"datum":-49.4},"y2":{"datum":-60.4}}},
{"data":{"name":"labs"},"transform":[{"filter":"datum.ab=='0'"}],"mark":{"type":"rule","strokeWidth":3.5,"color":"#000"},"encoding":{"x":{"field":"mab","type":"nominal","bandPosition":0.98},"y":{"datum":-49.4},"y2":{"datum":-60.4}}},
{"data":{"name":"st"},"mark":{"type":"text","text":"*","fontSize":30,"fontWeight":"bold","align":"center","baseline":"alphabetic"},"encoding":{"x":{"field":"mab","type":"nominal"},"xOffset":{"field":"ab","type":"nominal"},"y":{"datum":-0.5}}}
]}
],"spacing":51}
],"spacing":68,
"config":{"view":{"stroke":null},"font":"Liberation Sans","text":{"font":"Liberation Sans","color":"#000"},
"axis":{"grid":false,"domainColor":"#000","tickColor":"#000","labelColor":"#000","titleColor":"#000","labelFont":"Liberation Sans","titleFont":"Liberation Sans","labelFontWeight":"bold","titleFontWeight":"bold","labelFlush":false,"labelOverlap":false,"domainWidth":2.5,"tickWidth":2.5},
"axisX":{"labelFontSize":19,"tickSize":7,"labelPadding":7,"titleFontSize":23,"titlePadding":22},
"axisY":{"labelFontSize":15,"tickSize":7,"labelPadding":2,"titleFontSize":23,"titlePadding":14}}
}
